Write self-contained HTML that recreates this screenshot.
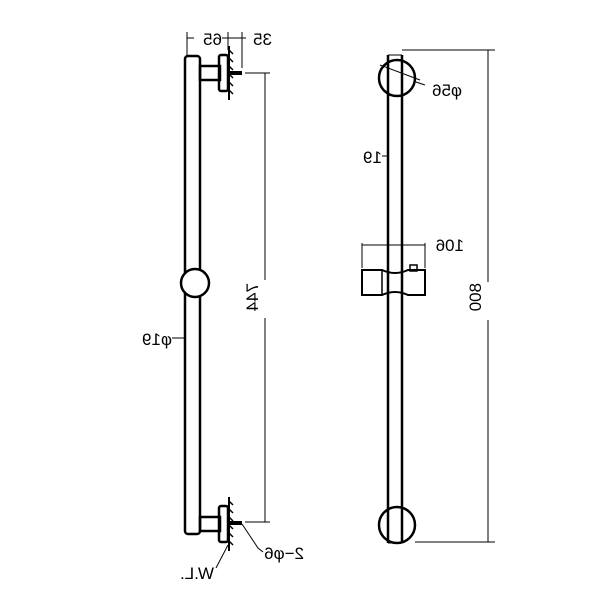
<!DOCTYPE html>
<html><head><style>body{margin:0;background:#fff}svg{display:block}text{font-family:"Liberation Sans",sans-serif;font-size:17px;fill:#000}</style></head><body>
<svg width="600" height="600" viewBox="0 0 600 600" xmlns="http://www.w3.org/2000/svg">
<g fill="none" stroke="#000">
<!-- left bar -->
<rect x="185" y="56" width="15" height="478" rx="3" stroke-width="2.5" fill="#fff"/>
<circle cx="195" cy="283" r="14" stroke-width="2.5" fill="#fff"/>
<!-- top bracket -->
<rect x="200" y="66" width="20" height="14" stroke-width="2.5"/>
<rect x="219" y="55" width="9" height="36" rx="2" stroke-width="2.5"/>
<line x1="229" y1="46" x2="229" y2="100" stroke-width="2"/>
<path d="M229 50l4 4M229 58l4 4M229 66l4 4M229 74l4 4M229 82l4 4M229 90l4 4" stroke-width="1.5"/>
<line x1="229" y1="73" x2="242" y2="73" stroke-width="4"/>
<!-- bottom bracket -->
<rect x="200" y="517" width="20" height="14" stroke-width="2.5"/>
<rect x="219" y="506" width="9" height="36" rx="2" stroke-width="2.5"/>
<line x1="229" y1="497" x2="229" y2="551" stroke-width="2"/>
<path d="M229 501l4 4M229 509l4 4M229 517l4 4M229 525l4 4M229 533l4 4M229 541l4 4" stroke-width="1.5"/>
<line x1="229" y1="523" x2="242" y2="523" stroke-width="4"/>
<!-- dims left -->
<g stroke-width="1">
<line x1="187" y1="32" x2="187" y2="55"/><line x1="228" y1="32" x2="228" y2="50"/><line x1="242" y1="32" x2="242" y2="68"/>
<line x1="187" y1="38" x2="194" y2="38"/><line x1="222" y1="38" x2="246" y2="38"/>
<line x1="245" y1="73" x2="270" y2="73"/><line x1="245" y1="522" x2="270" y2="522"/>
<line x1="265" y1="73" x2="265" y2="280"/><line x1="265" y1="318" x2="265" y2="522"/>
<line x1="172" y1="338" x2="186" y2="338"/>
<path d="M242 524 L258 548 L263 552"/>
<path d="M228 545 L216 568"/>
</g>
<!-- right bar -->
<circle cx="397" cy="78" r="18" stroke-width="2.5"/>
<circle cx="397" cy="525" r="18" stroke-width="2.5"/>
<line x1="388" y1="55" x2="388" y2="543" stroke-width="2.5"/>
<line x1="402" y1="55" x2="402" y2="543" stroke-width="2.5"/>
<line x1="388" y1="55" x2="402" y2="55" stroke-width="1"/>
<line x1="388" y1="543" x2="402" y2="543" stroke-width="1"/>
<!-- holder -->
<path d="M362 270 L382 270 Q395 276 408 270 L425 270 L425 295 L408 295 Q395 289 382 295 L362 295 Z" stroke-width="2"/>
<line x1="382" y1="270" x2="382" y2="295" stroke-width="1.5"/>
<rect x="410" y="265" width="7" height="6" stroke-width="1.5"/>
<g stroke-width="1">
<line x1="362" y1="243" x2="362" y2="268"/><line x1="425" y1="243" x2="425" y2="268"/>
<line x1="362" y1="245" x2="425" y2="245"/>
<line x1="380" y1="65" x2="420" y2="80"/><line x1="416" y1="82" x2="425" y2="85"/>
<line x1="402" y1="50" x2="495" y2="50"/><line x1="415" y1="542" x2="495" y2="542"/>
<line x1="488" y1="50" x2="488" y2="282"/><line x1="488" y1="320" x2="488" y2="542"/>
<line x1="382" y1="156" x2="388" y2="156"/>
</g>
</g>
<g>
<text transform="translate(222,45) scale(-1,1)">65</text>
<text transform="translate(272,45) scale(-1,1)">35</text>
<text transform="translate(172,345) scale(-1,1)">φ19</text>
<text transform="translate(304,559) scale(-1,1)">2−φ6</text>
<text transform="translate(214,579) scale(-1,1)">W.L.</text>
<text transform="translate(462,96) scale(-1,1)">φ56</text>
<text transform="translate(382,163) scale(-1,1)">19</text>
<text transform="translate(464,251) scale(-1,1)">106</text>
<text transform="translate(258,283) rotate(90) scale(1,-1)">744</text>
<text transform="translate(481,283) rotate(90) scale(1,-1)">800</text>
</g>
</svg>
</body></html>
